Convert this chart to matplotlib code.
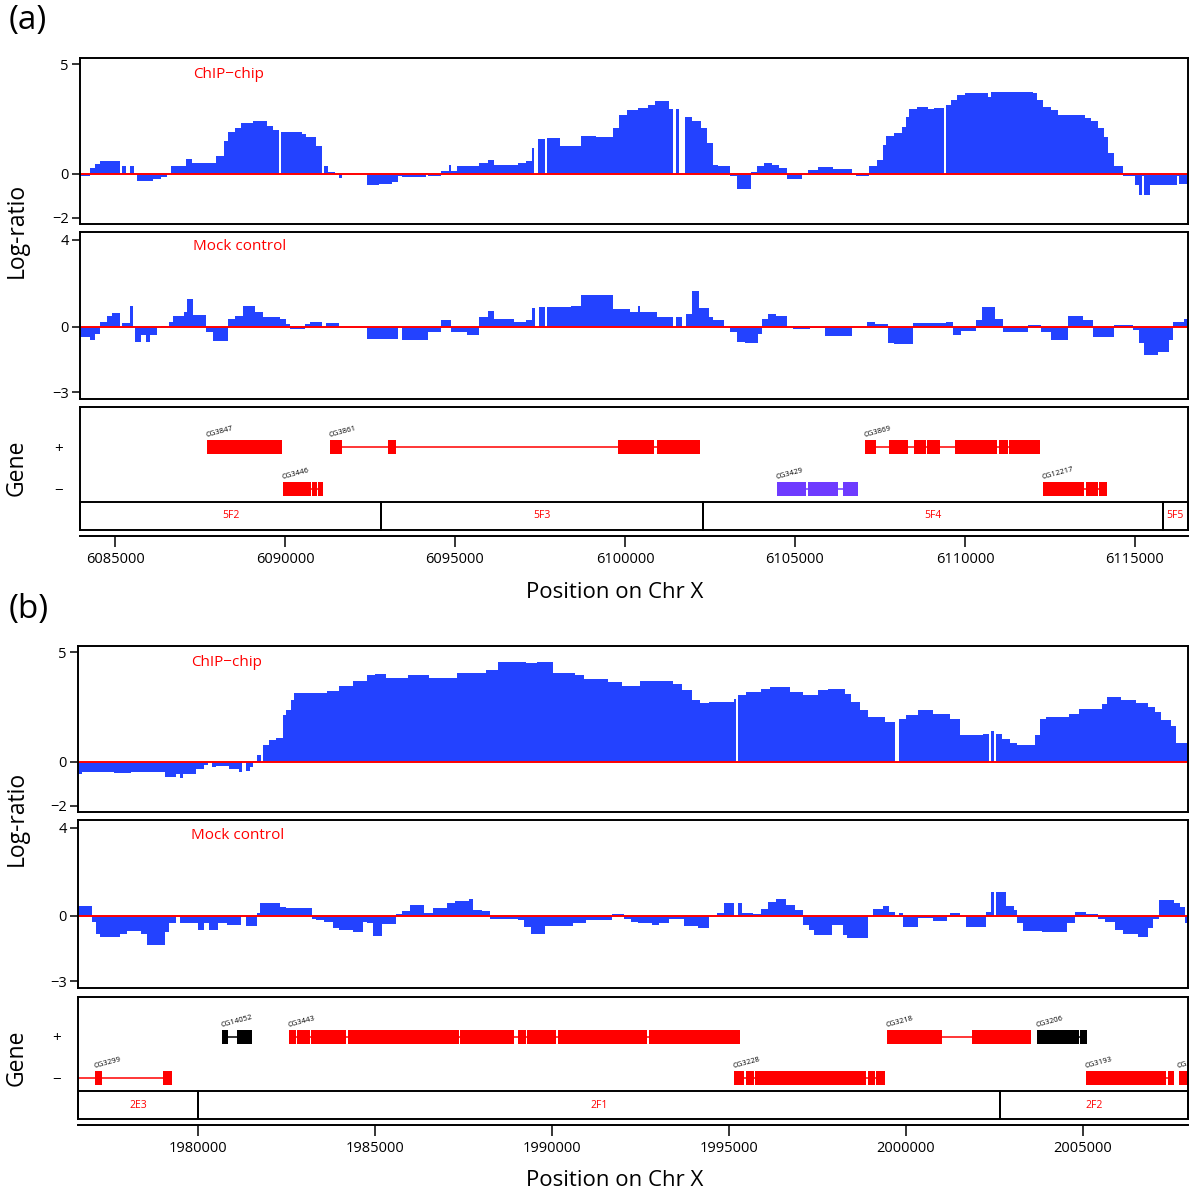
import numpy as np
import matplotlib
matplotlib.use("Agg")
import matplotlib.pyplot as plt
from matplotlib.patches import Rectangle

plt.rcParams["font.family"] = ["Open Sans", "DejaVu Sans"]

# ===============================
# DATA: (probe segment start, log-ratio)
# ===============================
CHIP_A = [
    (6083957, -0.1), (6084257, 0.25), (6084401, 0.45), (6084557, 0.6), (6085157, 0.0),
    (6085217, 0.35), (6085337, 0.05), (6085433, 0.35), (6085553, 0.05), (6085637, -0.33),
    (6086117, -0.25), (6086357, -0.15), (6086537, 0.0), (6086657, 0.35), (6087077, 0.7),
    (6087257, 0.5), (6087977, 0.83), (6088193, 1.5), (6088337, 1.9), (6088517, 2.1),
    (6088697, 2.3), (6089057, 2.43), (6089477, 2.2), (6089657, 2.0), (6089837, 0.0),
    (6089885, 1.9), (6090497, 1.8), (6090617, 1.7), (6090917, 1.25), (6091097, 0.0),
    (6091157, 0.35), (6091277, 0.1), (6091457, 0.0), (6091577, -0.18), (6091673, 0.0),
    (6092417, -0.5), (6092777, -0.45), (6093137, -0.35), (6093317, -0.1), (6093437, -0.15),
    (6094157, 0.05), (6094217, -0.1), (6094577, 0.15), (6094817, 0.4), (6094877, 0.15),
    (6095057, 0.35), (6095717, 0.5), (6095957, 0.65), (6096137, 0.4), (6096857, 0.5),
    (6097097, 0.6), (6097277, 1.2), (6097337, 0.0), (6097433, 1.6), (6097637, 0.0),
    (6097697, 1.63), (6098081, 1.25), (6098717, 1.75), (6099137, 1.66), (6099656, 2.1),
    (6099825, 2.7), (6100049, 2.9), (6100387, 3.0), (6100667, 3.15), (6100892, 3.3),
    (6101285, 2.95), (6101398, 0.0), (6101510, 2.95), (6101600, 0.0), (6101757, 2.6),
    (6101959, 2.4), (6102240, 2.1), (6102409, 1.4), (6102577, 0.4), (6102746, 0.35),
    (6103083, -0.1), (6103308, -0.68), (6103701, 0.1), (6103869, 0.35), (6104094, 0.5),
    (6104319, 0.4), (6104543, 0.25), (6104768, -0.25), (6105218, 0.0), (6105386, 0.2),
    (6105667, 0.3), (6106116, 0.22), (6106678, -0.05), (6106790, -0.1), (6107184, 0.35),
    (6107408, 0.65), (6107577, 1.3), (6107689, 1.75), (6107914, 1.85), (6108139, 2.15),
    (6108251, 2.6), (6108363, 2.95), (6108588, 3.05), (6108925, 2.95), (6109094, 3.0),
    (6109375, 0.0), (6109431, 3.15), (6109599, 3.35), (6109768, 3.6), (6109993, 3.7),
    (6110667, 3.5), (6110779, 3.75), (6112015, 3.7), (6112127, 3.35), (6112296, 3.05),
    (6112520, 2.9), (6112745, 2.7), (6113531, 2.55), (6113700, 2.4), (6113924, 2.1),
    (6114093, 1.7), (6114205, 0.95), (6114374, 0.35), (6114655, -0.08), (6114992, -0.5),
    (6115127, -0.95), (6115217, -0.1), (6115273, -0.95), (6115442, -0.5), (6116228, -0.1),
    (6116284, -0.45),
]

MOCK_A = [
    (6083957, -0.48), (6084257, -0.6), (6084401, -0.3), (6084557, 0.22), (6084761, 0.5),
    (6084917, 0.63), (6085157, 0.0), (6085217, 0.18), (6085433, 0.98), (6085517, 0.05),
    (6085577, -0.68), (6085757, -0.38), (6085913, -0.68), (6086033, -0.38), (6086237, 0.0),
    (6086357, 0.05), (6086597, 0.22), (6086693, 0.52), (6087017, 0.68), (6087113, 1.28),
    (6087281, 0.57), (6087677, -0.23), (6087881, -0.63), (6088313, 0.38), (6088517, 0.52),
    (6088757, 0.98), (6089117, 0.68), (6089357, 0.45), (6089861, 0.38), (6090017, 0.15),
    (6090137, -0.1), (6090593, 0.12), (6090737, 0.22), (6091097, 0.0), (6091217, 0.18),
    (6091577, 0.0), (6092417, -0.56), (6093317, 0.0), (6093437, -0.6), (6094217, -0.23),
    (6094577, 0.33), (6094877, -0.23), (6095357, -0.38), (6095717, 0.45), (6095957, 0.75),
    (6096137, 0.38), (6096737, 0.22), (6097097, 0.33), (6097277, 0.88), (6097361, 0.0),
    (6097457, 0.9), (6097637, 0.0), (6097697, 0.9), (6098417, 0.98), (6098717, 1.46),
    (6099656, 0.8), (6100162, 0.68), (6100387, 0.98), (6100443, 0.68), (6100948, 0.45),
    (6101398, 0.0), (6101510, 0.45), (6101679, 0.0), (6101791, 0.6), (6101959, 1.63),
    (6102184, 0.88), (6102465, 0.45), (6102577, 0.33), (6102914, 0.0), (6103083, -0.23),
    (6103308, -0.68), (6103532, -0.72), (6103925, -0.3), (6104038, 0.38), (6104206, 0.6),
    (6104431, 0.5), (6104768, 0.0), (6104937, -0.1), (6105442, -0.05), (6105892, -0.4),
    (6106678, 0.0), (6107128, 0.22), (6107352, 0.12), (6107745, -0.72), (6107914, -0.8),
    (6108476, 0.18), (6109431, 0.22), (6109656, -0.35), (6109880, -0.18), (6110330, 0.3),
    (6110498, 0.9), (6110891, 0.38), (6111116, -0.23), (6111846, 0.08), (6112239, -0.23),
    (6112520, -0.6), (6113026, 0.52), (6113475, 0.3), (6113756, -0.45), (6114374, 0.08),
    (6114936, -0.15), (6115105, -0.75), (6115273, -1.28), (6115666, -1.13), (6116003, -0.6),
    (6116116, 0.22), (6116453, 0.38),
]

CHIP_B = [
    (1976621, -0.53), (1976713, -0.45), (1977635, -0.5), (1978097, -0.45), (1979077, -0.68),
    (1979365, -0.53), (1979480, -0.73), (1979572, -0.53), (1979941, -0.3), (1980172, -0.15),
    (1980287, 0.0), (1980403, -0.23), (1980518, -0.18), (1980864, -0.3), (1981152, -0.45),
    (1981233, 0.0), (1981348, -0.42), (1981463, -0.23), (1981556, 0.02), (1981671, 0.3),
    (1981786, 0.0), (1981844, 0.78), (1982017, 0.98), (1982190, 1.1), (1982397, 2.12),
    (1982478, 2.35), (1982616, 2.8), (1982709, 3.15), (1983631, 3.25), (1983977, 3.48),
    (1984380, 3.7), (1984784, 3.95), (1985015, 4.0), (1985303, 3.83), (1985937, 3.94),
    (1986514, 3.83), (1987321, 4.03), (1988128, 4.17), (1988473, 4.55), (1989281, 4.5),
    (1989569, 4.55), (1990030, 4.05), (1990664, 3.94), (1990895, 3.76), (1991587, 3.64),
    (1991990, 3.48), (1992493, 3.68), (1993413, 3.56), (1993683, 3.26), (1993954, 2.83),
    (1994170, 2.68), (1994441, 2.73), (1995144, 2.88), (1995198, 0.0), (1995252, 3.06),
    (1995469, 3.18), (1995901, 3.3), (1996172, 3.41), (1996713, 3.18), (1997092, 3.06),
    (1997524, 3.26), (1997795, 3.33), (1998282, 3.1), (1998444, 2.73), (1998715, 2.35),
    (1998931, 2.05), (1999418, 1.82), (1999688, 0.0), (1999797, 1.97), (2000013, 2.12),
    (2000338, 2.38), (2000770, 2.2), (2001260, 1.97), (2001528, 1.21), (2002177, 1.29),
    (2002339, 0.0), (2002393, 1.41), (2002501, 0.0), (2002556, 1.29), (2002718, 1.06),
    (2002935, 0.88), (2003151, 0.79), (2003638, 1.21), (2003800, 1.97), (2003962, 2.05),
    (2004612, 2.2), (2004882, 2.4), (2005531, 2.65), (2005694, 2.95), (2006072, 2.8),
    (2006505, 2.7), (2006830, 2.5), (2007046, 2.27), (2007208, 1.89), (2007479, 1.64),
    (2007641, 0.88),
]

MOCK_B = [
    (1976621, 0.44), (1977001, -0.29), (1977117, -0.82), (1977232, -1.0), (1977808, -0.82),
    (1977981, -0.7), (1978385, -0.82), (1978558, -1.32), (1979077, -0.74), (1979192, -0.36),
    (1979365, 0.0), (1979480, -0.33), (1979999, -0.67), (1980172, -0.33), (1980310, -0.67),
    (1980576, -0.33), (1980806, -0.41), (1981210, 0.0), (1981360, -0.48), (1981671, 0.12),
    (1981763, 0.58), (1982305, 0.39), (1982478, 0.35), (1983227, -0.14), (1983343, -0.21),
    (1983573, -0.29), (1983804, -0.59), (1983977, -0.67), (1984380, -0.74), (1984669, -0.29),
    (1984784, -0.36), (1984957, -0.92), (1985188, -0.39), (1985591, 0.09), (1985764, 0.21),
    (1985995, 0.47), (1986398, 0.12), (1986629, 0.35), (1987032, 0.59), (1987263, 0.65),
    (1987667, 0.77), (1987782, 0.27), (1988013, 0.21), (1988243, -0.14), (1989050, -0.21),
    (1989223, -0.52), (1989396, -0.85), (1989800, -0.48), (1990607, -0.36), (1990953, -0.21),
    (1991702, 0.09), (1992048, -0.14), (1992223, -0.29), (1992439, -0.36), (1992818, -0.44),
    (1993034, -0.33), (1993305, -0.18), (1993737, -0.47), (1994116, -0.55), (1994441, 0.0),
    (1994657, 0.12), (1994874, 0.55), (1995144, 0.0), (1995252, 0.55), (1995360, 0.12),
    (1995685, 0.09), (1995901, 0.32), (1996118, 0.62), (1996334, 0.73), (1996605, 0.47),
    (1996875, 0.24), (1997092, -0.44), (1997254, -0.67), (1997416, -0.89), (1997903, -0.41),
    (1998228, -0.89), (1998336, -1.02), (1998931, 0.0), (1999061, 0.32), (1999364, 0.42),
    (1999526, 0.17), (1999688, 0.0), (1999797, 0.12), (1999905, -0.52), (2000338, -0.11),
    (2000770, -0.26), (2001149, 0.0), (2001257, 0.12), (2001528, 0.0), (2001690, -0.52),
    (2002264, 0.14), (2002393, 1.05), (2002501, 0.0), (2002556, 1.05), (2002826, 0.44),
    (2003043, 0.24), (2003151, -0.36), (2003313, -0.7), (2003854, -0.77), (2004557, -0.36),
    (2004774, 0.17), (2005098, 0.09), (2005423, -0.14), (2005639, -0.29), (2005910, -0.67),
    (2006126, -0.82), (2006559, -0.97), (2006830, -0.59), (2006992, -0.14), (2007154, 0.7),
    (2007587, 0.55), (2007749, 0.39), (2007890, -0.36),
]

XLIM_A = (6083970, 6116560)
XLIM_B = (1976610, 2007970)
XTICKS_A = [6085000, 6090000, 6095000, 6100000, 6105000, 6110000, 6115000]
XTICKS_B = [1980000, 1985000, 1990000, 1995000, 2000000, 2005000]

# cytological bands: names and inner boundaries
BAND_NAMES_A = ["5F2", "5F3", "5F4", "5F5"]
BAND_EDGES_A = [6092830, 6102300, 6115820]
BAND_NAMES_B = ["2E3", "2F1", "2F2"]
BAND_EDGES_B = [1980000, 2002650]

# genes: name, strand, transcript span, exons
GENES_A = [
    ("CG3847", "+", (6087698, 6089924), [(6087698, 6089924)]),
    ("CG3861", "+", (6091320, 6102204),
     [(6091320, 6091688), (6093021, 6093263), (6099804, 6100860), (6100944, 6102204)]),
    ("CG3446", "-", (6089955, 6091110),
     [(6089955, 6090774), (6090806, 6090953), (6090974, 6091110)]),
    ("CG3429", "-", (6104462, 6106845),
     [(6104462, 6105323), (6105375, 6106268), (6106404, 6106845)]),
    ("CG3869", "+", (6107055, 6112200),
     [(6107055, 6107391), (6107759, 6108336), (6108504, 6108840), (6108872, 6109260),
      (6109701, 6110940), (6110993, 6111255), (6111287, 6112200)]),
    ("CG12217", "-", (6112305, 6114174),
     [(6112305, 6113513), (6113565, 6113901), (6113954, 6114174)]),
]

GENES_B = [
    ("CG3299", "-", (1976000, 1979269), [(1977100, 1977302), (1979017, 1979269)]),
    ("CG14052", "+", (1980682, 1981540), [(1980682, 1980844), (1981116, 1981540)]),
    ("CG3443", "+", (1982579, 1995322),
     [(1982579, 1982781), (1982801, 1983164), (1983184, 1984173), (1984244, 1987372),
      (1987402, 1988936), (1989037, 1989259), (1989289, 1990127), (1990167, 1992698),
      (1992728, 1995322)]),
    ("CG3228", "-", (1995150, 1999408),
     [(1995150, 1995422), (1995473, 1995705), (1995745, 1998883), (1998924, 1999125),
      (1999156, 1999408)]),
    ("CG3218", "+", (1999458, 2003525), [(1999458, 2001022), (2001880, 2003525)]),
    ("CG3206", "+", (2003696, 2005109), [(2003696, 2004877), (2004927, 2005109)]),
    ("CG3193", "-", (2005079, 2007561), [(2005079, 2007359), (2007399, 2007561)]),
    ("CG", "-", (2007702, 2008600), [(2007702, 2008600)]),
]

GENE_COLORS = {"CG3429": "#6E3BFF", "CG14052": "#000000", "CG3206": "#000000"}

BLUE = "#2342FF"
W, H = 1200, 1196
SPINE_LW = 1.4


def px_axes(fig, left, top, right, bottom):
    return fig.add_axes([left / W, 1 - bottom / H, (right - left) / W, (bottom - top) / H])


def draw_signal(ax, pairs, xlim, ylim, yticks, label, label_y):
    starts = np.array([p[0] for p in pairs], dtype=float)
    values = np.array([p[1] for p in pairs], dtype=float)
    widths = np.diff(np.append(starts, xlim[1]))
    ax.bar(starts, values, width=widths, align="edge", color=BLUE, linewidth=0)
    ax.axhline(0, color="#FF0000", lw=1.4)
    ax.set_xlim(xlim)
    ax.set_ylim(ylim)
    ax.set_xticks([])
    ax.set_yticks(yticks)
    ax.set_yticklabels([str(t).replace("-", "\u2212") for t in yticks])
    ax.tick_params(axis="y", direction="out", length=6, width=1.1, labelsize=10.5, pad=2)
    for s in ax.spines.values():
        s.set_linewidth(SPINE_LW)
    ax.text(0.102, label_y, label, transform=ax.transAxes, color="#FF0000",
            fontsize=11, ha="left", va="center")


def draw_genes(ax, genes, band_names, band_edges, xlim, xticks):
    ax.set_xlim(xlim)
    ax.set_ylim(0, 123)
    edges = [xlim[0]] + band_edges + [xlim[1]]
    for name, a, b in zip(band_names, edges[:-1], edges[1:]):
        ax.add_patch(Rectangle((a, 0), b - a, 28, fill=False, edgecolor="black",
                               lw=SPINE_LW, clip_on=False))
        ax.text((a + b) / 2, 14, name, color="#FF0000", fontsize=7.5,
                ha="center", va="center")

    for name, strand, span, exons in genes:
        color = GENE_COLORS.get(name, "#FF0000")
        y = 83 if strand == "+" else 41
        ax.plot(span, [y, y], color=color, lw=1.1, solid_capstyle="butt")
        for s, e in exons:
            ax.add_patch(Rectangle((s, y - 7), e - s, 14, facecolor=color,
                                   edgecolor="none"))
        ax.text(exons[0][0], y + 8, name, fontsize=5.5, rotation=15, ha="left",
                va="bottom", rotation_mode="anchor", clip_on=True)

    ax.set_yticks([83, 41])
    ax.set_yticklabels(["+", "\u2212"])
    ax.tick_params(axis="y", length=0, labelsize=11, pad=12)
    ax.set_xticks(xticks)
    ax.set_xticklabels([str(t) for t in xticks])
    ax.tick_params(axis="x", direction="out", length=8, width=1.1, labelsize=10.5, pad=4)
    ax.spines["bottom"].set_position(("outward", 4))
    for s in ax.spines.values():
        s.set_linewidth(SPINE_LW)


def main():
    fig = plt.figure(figsize=(W / 100, H / 100), dpi=100)

    # ---- panel (a)
    ax = px_axes(fig, 80, 58, 1188, 224)
    draw_signal(ax, CHIP_A, XLIM_A, (-2.28, 5.28), [5, 0, -2], "ChIP\u2212chip", 0.9)
    ax = px_axes(fig, 80, 232, 1188, 399)
    draw_signal(ax, MOCK_A, XLIM_A, (-3.3, 4.35), [4, 0, -3], "Mock control", 0.915)
    ax = px_axes(fig, 80, 407, 1188, 530)
    draw_genes(ax, GENES_A, BAND_NAMES_A, BAND_EDGES_A, XLIM_A, XTICKS_A)

    # ---- panel (b)
    ax = px_axes(fig, 78, 646, 1188, 812)
    draw_signal(ax, CHIP_B, XLIM_B, (-2.28, 5.28), [5, 0, -2], "ChIP\u2212chip", 0.9)
    ax = px_axes(fig, 78, 820, 1188, 988)
    draw_signal(ax, MOCK_B, XLIM_B, (-3.3, 4.35), [4, 0, -3], "Mock control", 0.91)
    ax = px_axes(fig, 78, 997, 1188, 1119)
    draw_genes(ax, GENES_B, BAND_NAMES_B, BAND_EDGES_B, XLIM_B, XTICKS_B)

    # ---- outer labels
    for tag, ty, ly, gy, xy in [("(a)", 21, 230, 468, 593), ("(b)", 609, 818, 1058, 1180)]:
        fig.text(9 / W, 1 - ty / H, tag, fontsize=24, ha="left", va="center")
        fig.text(17 / W, 1 - ly / H, "Log-ratio", fontsize=16.5, rotation=90,
                 ha="center", va="center")
        fig.text(17 / W, 1 - gy / H, "Gene", fontsize=16.5, rotation=90,
                 ha="center", va="center")
        fig.text(615 / W, 1 - xy / H, "Position on Chr X", fontsize=16,
                 ha="center", va="center")

    fig.savefig("out.png", dpi=100)


if __name__ == "__main__":
    main()
